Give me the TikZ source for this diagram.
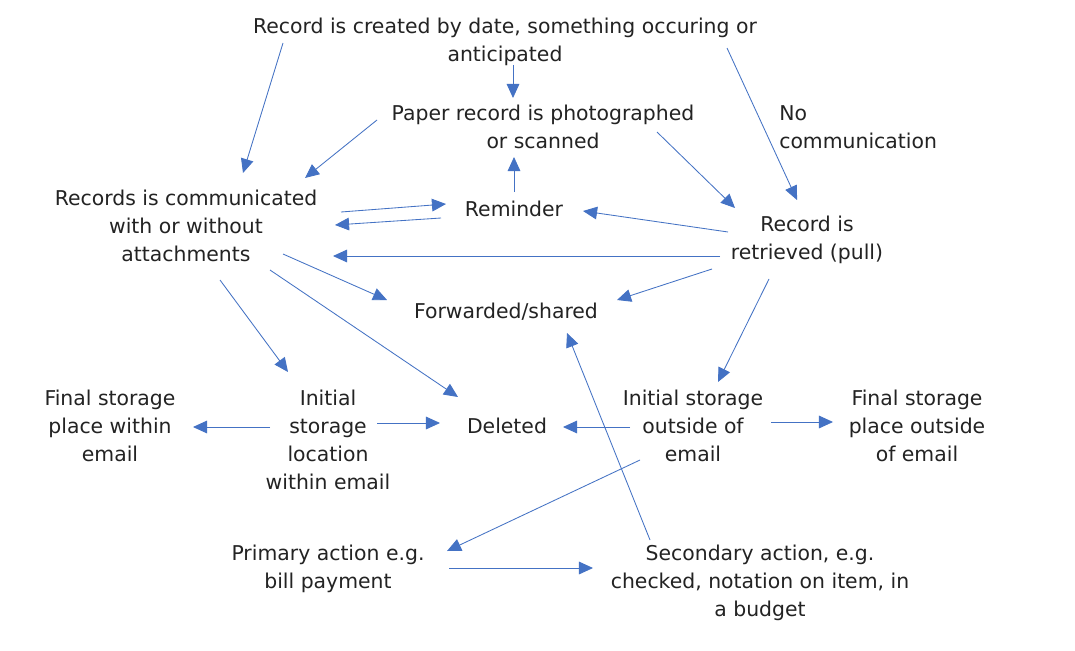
\documentclass[tikz,border=0pt]{standalone}
\usepackage{fontspec}
\setmainfont{DejaVu Sans}
\usetikzlibrary{arrows.meta}
\definecolor{arrblue}{RGB}{68,114,196}
\definecolor{txt}{RGB}{35,35,35}
\tikzset{
  lbl/.style={align=center,inner sep=0pt,text=txt,font=\fontsize{14.5}{19.9}\selectfont},
  conn/.style={draw=arrblue,line width=0.6pt,-{Triangle[length=10pt,width=9pt]}}
}
\begin{document}
\begin{tikzpicture}[x=0.025cm,y=-0.025cm]
\useasboundingbox (0,0) rectangle (1075,650);
\fill[white] (0,0) rectangle (1075,650);
\node[lbl] (top) at (505,42) {Record is created by date, something occuring or\\anticipated};
\node[lbl] (paper) at (543,127) {Paper record is photographed\\or scanned};
\node[lbl,align=left,anchor=west] (nocomm) at (779,127) {No\\communication};
\node[lbl] (comm) at (186,226) {Records is communicated\\with or without\\attachments};
\node[lbl] (rem) at (514,209) {Reminder};
\node[lbl] (ret) at (807,240) {Record is\\retrieved (pull)};
\node[lbl] (fwd) at (506,312) {Forwarded/shared};
\node[lbl] (finin) at (110,426) {Final storage\\place within\\email};
\node[lbl] (initin) at (328,440) {Initial\\storage\\location\\within email};
\node[lbl] (del) at (507,426) {Deleted};
\node[lbl] (initout) at (693,426) {Initial storage\\outside of\\email};
\node[lbl] (finout) at (917,426) {Final storage\\place outside\\of email};
\node[lbl] (prim) at (328,569) {Primary action e.g.\\bill payment};
\node[lbl] (sec) at (760,583) {Secondary action, e.g.\\checked, notation on item, in\\a budget};
% connectors
\draw[conn] ([shift={(-222,1)}]top.center) -- ([shift={(57,-53)}]comm.center);
\draw[conn] ([shift={(8,23)}]top.center) -- ([shift={(-30,-29)}]paper.center);
\draw[conn] ([shift={(222,6)}]top.center) -- ([shift={(-10,-40)}]ret.center);
\draw[conn] ([shift={(-166,-7)}]paper.center) -- ([shift={(119,-48)}]comm.center);
\draw[conn] ([shift={(114,5)}]paper.center) -- ([shift={(-72,-32)}]ret.center);
\draw[conn] ([shift={(0,-17)}]rem.center) -- ([shift={(-29,30)}]paper.center);
\draw[conn] ([shift={(155,-14)}]comm.center) -- ([shift={(-68,-5)}]rem.center);
\draw[conn] ([shift={(-73,9)}]rem.center) -- ([shift={(149,-1)}]comm.center);
\draw[conn] ([shift={(-79,-8)}]ret.center) -- ([shift={(69,2)}]rem.center);
\draw[conn] ([shift={(-87,16)}]ret.center) -- ([shift={(147,30)}]comm.center);
\draw[conn] ([shift={(97,28)}]comm.center) -- ([shift={(-119,-12)}]fwd.center);
\draw[conn] ([shift={(-95,29)}]ret.center) -- ([shift={(111,-12)}]fwd.center);
\draw[conn] ([shift={(34,54)}]comm.center) -- ([shift={(-40,-68)}]initin.center);
\draw[conn] ([shift={(84,44)}]comm.center) -- ([shift={(-49,-29)}]del.center);
\draw[conn] ([shift={(-38,39)}]ret.center) -- ([shift={(25,-44)}]initout.center);
\draw[conn] ([shift={(-58,-13)}]initin.center) -- ([shift={(83,1)}]finin.center);
\draw[conn] ([shift={(49,-17)}]initin.center) -- ([shift={(-67,-3)}]del.center);
\draw[conn] ([shift={(-63,1)}]initout.center) -- ([shift={(56,1)}]del.center);
\draw[conn] ([shift={(78,-4)}]initout.center) -- ([shift={(-84,-4)}]finout.center);
\draw[conn] ([shift={(-53,34)}]initout.center) -- ([shift={(119,-18)}]prim.center);
\draw[conn] ([shift={(-110,-43)}]sec.center) -- ([shift={(61,21)}]fwd.center);
\draw[conn] ([shift={(121,-1)}]prim.center) -- ([shift={(-167,-15)}]sec.center);
\end{tikzpicture}
\end{document}
